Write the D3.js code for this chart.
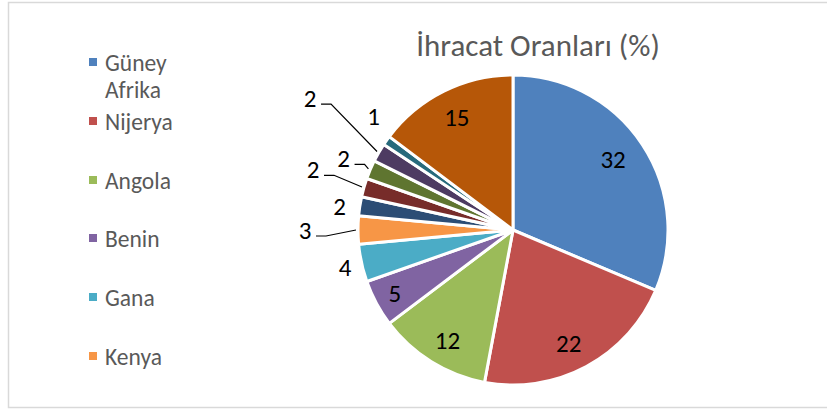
<!DOCTYPE html>
<html>
<head>
<meta charset="utf-8">
<script src="https://cdn.jsdelivr.net/npm/d3@7"></script>
<style>
  body { margin: 0; background: #fff; }
  text { font-family: Carlito, Lato, "Open Sans", sans-serif; }
</style>
</head>
<body>
<div id="chart"></div>
<script>
// data
var title = "İhracat Oranları (%)";
var legendNames = ["Güney Afrika", "Nijerya", "Angola", "Benin", "Gana", "Kenya"];
var values = [32, 22, 12, 5, 4, 3, 2, 2, 2, 2, 1, 15];

// office 2010 palette, 12 slices
var colors = ["#4F81BD", "#C0504D", "#9BBB59", "#8064A2", "#4BACC6", "#F79646",
              "#2C4D75", "#772C2A", "#5F7530", "#4D3B62", "#276A7C", "#B65708"];

// where each data label sits: radius from centre, angle shift (deg), leader line or not
var labelRadius = [123, 126, 128, 134, 172, 208, 175, 209, 184, 242, 180, 126];
var labelShift  = [-2, 2, -1, 0, 0, 0, -1, 1, 0, 3, 4, 0];
var hasLeader   = [0, 0, 0, 0, 0, 1, 0, 1, 1, 1, 0, 0];

var width = 827, height = 410;
var cx = 513, cy = 230, radius = 155;

var svg = d3.select("#chart").append("svg")
    .attr("width", width)
    .attr("height", height);

// chart area border
svg.append("rect")
    .attr("x", 8.5)
    .attr("y", 2.5)
    .attr("width", 830)
    .attr("height", 405)
    .attr("fill", "none")
    .attr("stroke", "#d9d9d9")
    .attr("stroke-width", 1.5);

svg.append("text")
    .attr("x", 538)
    .attr("y", 56)
    .attr("text-anchor", "middle")
    .attr("fill", "#595959")
    .style("font-size", "31px")
    .text(title);

var pie = d3.pie().sort(null).value(function(d) { return d; });
var arcs = pie(values);

var arc = d3.arc().innerRadius(0).outerRadius(radius);

var g = svg.append("g")
    .attr("transform", "translate(" + cx + "," + cy + ")");

g.selectAll(".slice")
    .data(arcs)
    .enter().append("path")
    .attr("class", "slice")
    .attr("d", arc)
    .attr("fill", function(d, i) { return colors[i]; })
    .attr("stroke", "#fff")
    .attr("stroke-width", 3)
    .attr("stroke-linejoin", "round");

function labelPos(d, i) {
  var mid = (d.startAngle + d.endAngle) / 2 + labelShift[i] * Math.PI / 180;
  var a = d3.arc().innerRadius(labelRadius[i]).outerRadius(labelRadius[i]);
  return a.centroid({startAngle: mid, endAngle: mid});
}

// leader lines: short horizontal bit from the label, then to slice edge
g.selectAll(".leader")
    .data(arcs.filter(function(d, i) { return hasLeader[i]; }))
    .enter().append("polyline")
    .attr("class", "leader")
    .attr("fill", "none")
    .attr("stroke", "#000")
    .attr("stroke-width", 1.2)
    .attr("points", function(d) {
      var i = d.index;
      var p = labelPos(d, i);
      var mid = (d.startAngle + d.endAngle) / 2;
      var edge = d3.arc().innerRadius(radius + 2).outerRadius(radius + 2)
        .centroid({startAngle: mid, endAngle: mid});
      var y0 = p[1] + 6;
      var x0 = p[0] + 11;
      var x1 = Math.min(x0 + 10, edge[0]);
      return [[x0, y0], [x1, y0], edge].join(" ");
    });

g.selectAll(".val")
    .data(arcs)
    .enter().append("text")
    .attr("class", "val")
    .attr("transform", function(d, i) { return "translate(" + labelPos(d, i) + ")"; })
    .attr("text-anchor", "middle")
    .attr("dy", "0.36em")
    .attr("fill", "#000")
    .style("font-size", "25px")
    .text(function(d) { return d.data; });

// legend, only the first six entries fit
var legendY = [62, 121, 180, 238, 297, 356];
var legend = svg.selectAll(".legend")
    .data(legendNames)
    .enter().append("g")
    .attr("class", "legend")
    .attr("transform", function(d, i) { return "translate(89," + legendY[i] + ")"; });

legend.append("rect")
    .attr("x", 0)
    .attr("y", -4)
    .attr("width", 8)
    .attr("height", 8)
    .attr("fill", function(d, i) { return colors[i]; });

legend.append("text")
    .attr("x", 16)
    .attr("y", 9)
    .attr("fill", "#595959")
    .style("font-size", "23.5px")
    .each(function(d) {
      var words = d.split(" ");
      var t = d3.select(this);
      words.forEach(function(w, k) {
        t.append("tspan")
          .attr("x", 16)
          .attr("dy", k === 0 ? 0 : 27)
          .text(w);
      });
    });
</script>
</body>
</html>
